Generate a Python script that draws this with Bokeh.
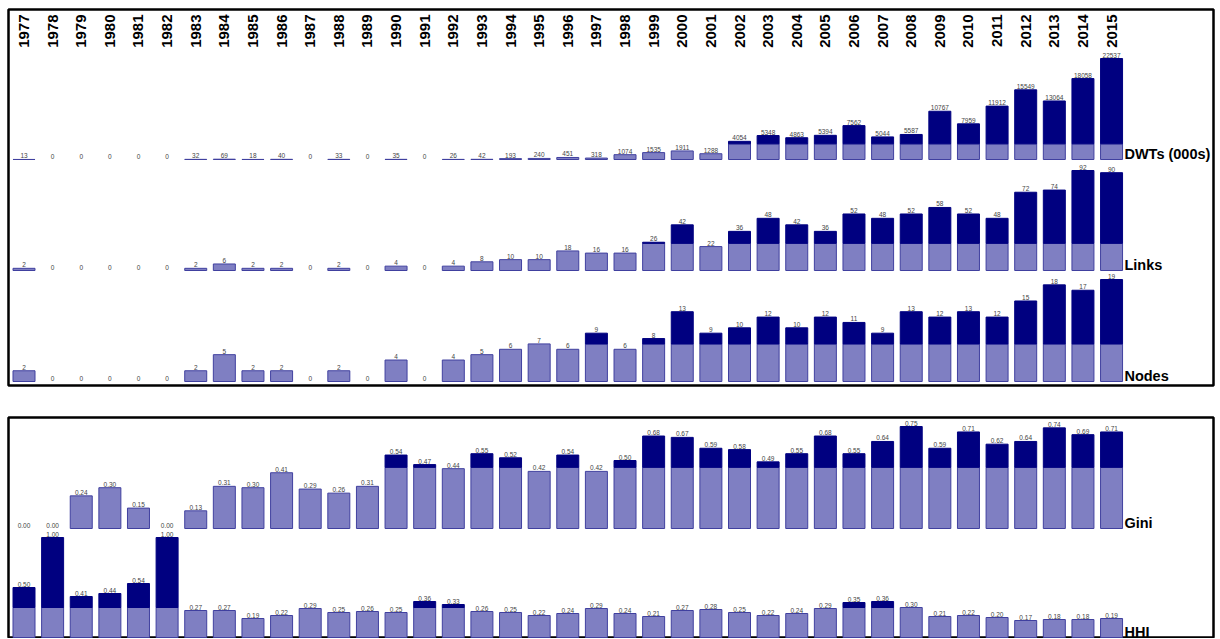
import numpy as np
from bokeh.plotting import figure
from bokeh.models import Range1d
from bokeh.layouts import column
from bokeh.embed import file_html
from bokeh.resources import INLINE
from bokeh.core.properties import value

years = list(range(1977, 2016))
dwts = [13, 0, 0, 0, 0, 0, 32, 69, 18, 40, 0, 33, 0, 35, 0, 26, 42, 193, 240, 451,
        318, 1074, 1535, 1911, 1288, 4054, 5348, 4863, 5394, 7562, 5044, 5587,
        10767, 7959, 11912, 15549, 13064, 18058, 22537]
links = [2, 0, 0, 0, 0, 0, 2, 6, 2, 2, 0, 2, 0, 4, 0, 4, 8, 10, 10, 18, 16, 16, 26,
         42, 22, 36, 48, 42, 36, 52, 48, 52, 58, 52, 48, 72, 74, 92, 90]
nodes = [2, 0, 0, 0, 0, 0, 2, 5, 2, 2, 0, 2, 0, 4, 0, 4, 5, 6, 7, 6, 9, 6, 8, 13, 9,
         10, 12, 10, 12, 11, 9, 13, 12, 13, 12, 15, 18, 17, 19]
gini = [0.00, 0.00, 0.24, 0.30, 0.15, 0.00, 0.13, 0.31, 0.30, 0.41, 0.29, 0.26, 0.31,
        0.54, 0.47, 0.44, 0.55, 0.52, 0.42, 0.54, 0.42, 0.50, 0.68, 0.67, 0.59, 0.58,
        0.49, 0.55, 0.68, 0.55, 0.64, 0.75, 0.59, 0.71, 0.62, 0.64, 0.74, 0.69, 0.71]
hhi = [0.50, 1.00, 0.41, 0.44, 0.54, 1.00, 0.27, 0.27, 0.19, 0.22, 0.29, 0.25, 0.26,
       0.25, 0.36, 0.33, 0.26, 0.25, 0.22, 0.24, 0.29, 0.24, 0.21, 0.27, 0.28, 0.25,
       0.22, 0.24, 0.29, 0.35, 0.36, 0.30, 0.21, 0.22, 0.20, 0.17, 0.18, 0.18, 0.19]

row_names = ["DWTs (000s)", "Links", "Nodes", "Gini", "HHI"]
caps = [3500, 25, 7, 0.45, 0.30]

LIGHT = "#7f7fc2"
LIGHT_LINE = "#40409f"
DARK = "#000080"
FONT = value("Liberation Sans")

CANVAS_W = 1219
FRAME_L = 8
FRAME_R = 1213
FRAME_W = FRAME_R - FRAME_L
C0 = 23.5       # page x of first bar centre
STEP = 28.62    # px per year
x_start = years[0] - (C0 - FRAME_L) / STEP
x_end = x_start + FRAME_W / STEP
BAR_W = 22.0 / STEP


def make_panel(canvas_top, canvas_h, frame_top, frame_bottom):
    mb_top = frame_top - canvas_top
    mb_bottom = canvas_top + canvas_h - frame_bottom
    p = figure(width=CANVAS_W, height=canvas_h, x_range=Range1d(x_start, x_end),
               y_range=Range1d(frame_bottom, frame_top), output_backend="svg",
               toolbar_location=None, x_axis_location=None, y_axis_location=None,
               min_border_left=FRAME_L, min_border_right=CANVAS_W - FRAME_R,
               min_border_top=mb_top, min_border_bottom=mb_bottom)
    p.grid.visible = False
    p.outline_line_color = "black"
    p.outline_line_width = 2.5
    p.background_fill_color = "white"
    p.border_fill_color = "white"
    return p


def add_row(p, key, vals, cap, name, fmt, top, bottom, baseline, ppu):
    p.extra_y_ranges[key] = Range1d((baseline - bottom) / ppu, (baseline - top) / ppu)
    xs = [yr for yr, v in zip(years, vals) if v > 0]
    lt = [min(v, cap) for v in vals if v > 0]
    p.vbar(x=xs, top=lt, bottom=0, width=BAR_W, fill_color=LIGHT,
           line_color=LIGHT_LINE, line_width=1, y_range_name=key)
    dx = [yr for yr, v in zip(years, vals) if v > cap]
    dt = [v for v in vals if v > cap]
    p.vbar(x=dx, top=dt, bottom=cap, width=BAR_W, fill_color=DARK,
           line_color=DARK, line_width=1, y_range_name=key)
    p.text(x=years, y=vals, text=[fmt.format(v) for v in vals], y_range_name=key,
           text_font=FONT, text_font_size="6.5px", text_color="#444444",
           text_align="center", text_baseline="bottom", y_offset=-1)
    p.text(x=[years[-1] + 0.45], y=[0], text=[name], y_range_name=key,
           text_font=FONT, text_font_size="14.5px", text_font_style="bold",
           text_color="black", text_align="left", text_baseline="bottom",
           y_offset=2)


# top panel (page coordinates 0..387)
p1 = make_panel(0, 387, 9, 385)
p1.text(x=years, y=[14] * len(years), text=[str(y) for y in years], angle=np.pi / 2,
        text_font=FONT, text_font_size="15px", text_font_style="bold",
        text_color="black", text_align="right", text_baseline="middle")
add_row(p1, "dwt", dwts, caps[0], row_names[0], "{:d}", 9, 385, 159, 101 / 22537)
add_row(p1, "links", links, caps[1], row_names[1], "{:d}", 9, 385, 270, 100 / 92)
add_row(p1, "nodes", nodes, caps[2], row_names[2], "{:d}", 9, 385, 381, 102 / 19)

# bottom panel (page coordinates 387..638)
p2 = make_panel(387, 251, 417, 638)
add_row(p2, "gini", gini, caps[3], row_names[3], "{:.2f}", 417, 638, 528, 136)
add_row(p2, "hhi", hhi, caps[4], row_names[4], "{:.2f}", 417, 638, 637, 100)

layout = column(p1, p2, spacing=0)
open("out.html", "w").write(file_html(layout, INLINE))
